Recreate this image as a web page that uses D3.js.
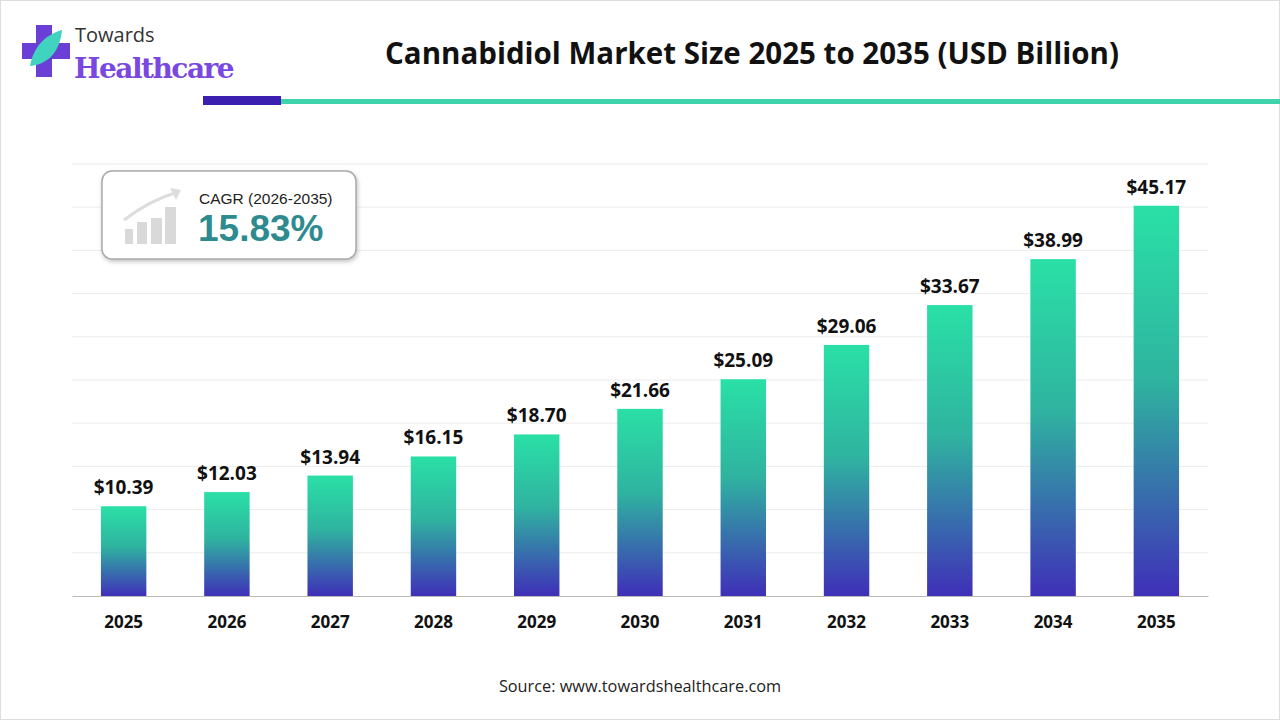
<!DOCTYPE html>
<html><head><meta charset="utf-8">
<script src="https://cdn.jsdelivr.net/npm/d3@7"></script>
<style>body{margin:0;background:#fff;}svg{display:block;font-family:"Open Sans",Roboto,sans-serif;}</style>
</head><body><div id="chart"></div>
<script>
var years = ['2025','2026','2027','2028','2029','2030','2031','2032','2033','2034','2035'];
var values = [10.39, 12.03, 13.94, 16.15, 18.70, 21.66, 25.09, 29.06, 33.67, 38.99, 45.17];
var gridTicks = [5, 10, 15, 20, 25, 30, 35, 40, 45, 50];

var W = 1280, H = 720;
var margin = {left: 72, right: 72, top: 164, bottom: 124};
var width = W - margin.left - margin.right;
var height = H - margin.top - margin.bottom;

var svg = d3.select('#chart').append('svg').attr('width', W).attr('height', H);
var defs = svg.append('defs');
var grad = defs.append('linearGradient').attr('id', 'barGrad')
  .attr('x1', 0).attr('y1', 0).attr('x2', 0).attr('y2', 1);
grad.append('stop').attr('offset', '0%').attr('stop-color', '#2ae0a6');
grad.append('stop').attr('offset', '45%').attr('stop-color', '#2fb3a0');
grad.append('stop').attr('offset', '100%').attr('stop-color', '#3f2fb8');

var shadow = defs.append('filter').attr('id', 'sh').attr('x', -0.1).attr('y', -0.1).attr('width', 1.2).attr('height', 1.3);
shadow.append('feDropShadow').attr('dx', 1).attr('dy', 2).attr('stdDeviation', 2).attr('flood-color', '#999').attr('flood-opacity', 0.6);

svg.append('rect').attr('x', 0.5).attr('y', 0.5).attr('width', W - 1).attr('height', H - 1)
  .attr('fill', 'none').attr('stroke', '#ddd');

// header
svg.append('text').attr('x', 752).attr('y', 64).attr('text-anchor', 'middle')
  .attr('font-size', 29.5).attr('font-weight', 700).attr('fill', '#111')
  .text('Cannabidiol Market Size 2025 to 2035 (USD Billion)');
svg.append('rect').attr('x', 203).attr('y', 96).attr('width', 78).attr('height', 9).attr('fill', '#3a1fb0');
svg.append('rect').attr('x', 281).attr('y', 99).attr('width', 999).attr('height', 5).attr('fill', '#3fd3ac');

// logo
var logo = svg.append('g');
logo.append('rect').attr('x', 36).attr('y', 25).attr('width', 16).attr('height', 52).attr('fill', '#6a3fd6');
logo.append('rect').attr('x', 22).attr('y', 43).attr('width', 48).attr('height', 16).attr('fill', '#6a3fd6');
logo.append('path').attr('d', 'M30,66 C34,44 48,34 62,30 C60,50 50,64 30,66 Z').attr('fill', '#3fd3c0');
logo.append('text').attr('x', 75).attr('y', 42).attr('font-size', 20).attr('fill', '#333').text('Towards');
logo.append('text').attr('x', 74).attr('y', 78).attr('font-size', 28).attr('font-weight', 700)
  .attr('font-family', 'DejaVu Serif, serif').attr('fill', '#7a48e0').attr('letter-spacing', -1.5).text('Healthcare');

var x = d3.scaleBand().domain(years).range([0, width]).paddingInner(0.56).paddingOuter(0.28);
var y = d3.scaleLinear().domain([0, 50]).range([height, 0]);

var g = svg.append('g').attr('transform', 'translate(' + margin.left + ',' + margin.top + ')');

g.selectAll('line.grid').data(gridTicks).enter().append('line').attr('class', 'grid')
  .attr('x1', 0).attr('x2', width)
  .attr('y1', function(d) { return y(d); }).attr('y2', function(d) { return y(d); })
  .attr('stroke', '#ececec').attr('stroke-width', 1);

g.selectAll('rect.bar').data(values).enter().append('rect').attr('class', 'bar')
  .attr('x', function(d, i) { return x(years[i]); })
  .attr('y', function(d) { return y(d); })
  .attr('width', x.bandwidth())
  .attr('height', function(d) { return height - y(d); })
  .attr('fill', 'url(#barGrad)');

g.selectAll('text.val').data(values).enter().append('text').attr('class', 'val')
  .attr('x', function(d, i) { return x(years[i]) + x.bandwidth() / 2; })
  .attr('y', function(d) { return y(d) - 12; })
  .attr('text-anchor', 'middle').attr('font-size', 19).attr('font-weight', 700).attr('fill', '#111')
  .text(function(d) { return '$' + d.toFixed(2); });

var xAxis = g.append('g').attr('transform', 'translate(0,' + height + ')')
  .call(d3.axisBottom(x).tickSize(0).tickPadding(20));
xAxis.select('.domain').attr('stroke', '#bbb');
xAxis.selectAll('text').attr('font-size', 17).attr('font-weight', 700).attr('fill', '#111')
  .attr('font-family', '"Open Sans",sans-serif');

// CAGR box
var box = svg.append('g');
box.append('rect').attr('x', 102).attr('y', 171).attr('width', 254).attr('height', 88).attr('rx', 10)
  .attr('fill', '#fff').attr('stroke', '#aaa').attr('stroke-width', 1.5).attr('filter', 'url(#sh)');
[[125, 229, 8, 15], [137, 222, 10, 22], [151, 218, 11, 26], [165, 207, 11, 37]].forEach(function(b) {
  box.append('rect').attr('x', b[0]).attr('y', b[1]).attr('width', b[2]).attr('height', b[3]).attr('fill', '#d9d9d9');
});
box.append('path').attr('d', 'M124,220 Q150,200 178,192').attr('fill', 'none').attr('stroke', '#ddd').attr('stroke-width', 3);
box.append('path').attr('d', 'M170,188 L181,190 L176,200 Z').attr('fill', '#ddd');
box.append('text').attr('x', 199).attr('y', 204).attr('font-size', 15.5).attr('fill', '#222')
  .attr('font-family', 'Liberation Sans, Arial, sans-serif').text('CAGR (2026-2035)');
box.append('text').attr('x', 198).attr('y', 241).attr('font-size', 37).attr('font-weight', 700).attr('fill', '#2d8b8f')
  .attr('font-family', 'Liberation Sans, Arial, sans-serif').text('15.83%');

svg.append('text').attr('x', 640).attr('y', 692).attr('text-anchor', 'middle').attr('font-size', 16.3).attr('fill', '#222')
  .text('Source: www.towardshealthcare.com');
</script></body></html>
